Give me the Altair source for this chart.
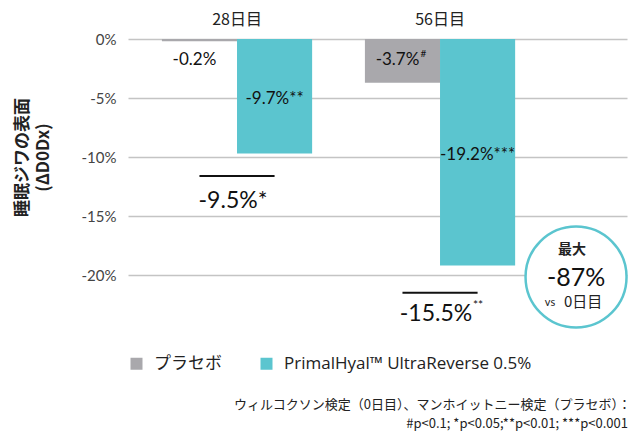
import altair as alt
import pandas as pd

# ---- data ----
days = ["28日目", "56日目"]
series_names = ["プラセボ", "PrimalHyal™ UltraReverse 0.5%"]
placebo = [-0.2, -3.7]
primal = [-9.7, -19.2]
placebo_labels = ["-0.2%", "-3.7%"]
placebo_sup = ["", "#"]
primal_labels = ["-9.7%**", "-19.2%***"]
diff_labels = ["-9.5%*", "-15.5%"]
diff_sup = ["", "**"]
diff_line_y = [-11.6, -21.5]
diff_text_y = [-13.7, -23.3]
y_ticks = [0, -5, -10, -15, -20]
colors = ["#a9a8ac", "#5bc5cf"]
badge_top = "最大"
badge_value = "-87%"
badge_vs = "vs"
badge_day = "0日目"
badge_y = -20
footnote = ["ウィルコクソン検定（0日目）、マンホイットニー検定（プラセボ）：",
            "#p<0.1; *p<0.05;**p<0.01; ***p<0.001"]
y_title = ["睡眠ジワの表面", "(ΔD0Dx)"]

# ---- layout constants ----
group_pos = [1, 2]          # group centres on the x scale
bar_w = 0.37                # bar width in x units
x_domain = [0.463, 2.921]
badge_x = 2.67

FONT = "Lato, 'Noto Sans CJK JP', sans-serif"
LEG = "'Open Sans', 'Noto Sans CJK JP', sans-serif"
JP = "'Noto Sans CJK JP', sans-serif"

bars = pd.DataFrame({
    "series": [series_names[0]] * 2 + [series_names[1]] * 2,
    "x0": [g - bar_w for g in group_pos] + list(group_pos),
    "x1": list(group_pos) + [g + bar_w for g in group_pos],
    "value": placebo + primal,
})
plac_df = pd.DataFrame({"x": [g - bar_w / 2 for g in group_pos], "label": placebo_labels,
                        "sup": placebo_sup, "y": [0, 0]})
prim_df = pd.DataFrame({"x": [g + bar_w / 2 for g in group_pos], "label": primal_labels,
                        "y": [v / 2 for v in primal]})
diff_df = pd.DataFrame({"x": group_pos, "xa": [g - bar_w / 2 for g in group_pos],
                        "xb": [g + bar_w / 2 for g in group_pos],
                        "label": diff_labels, "sup": diff_sup,
                        "ly": diff_line_y, "ty": diff_text_y})
head_df = pd.DataFrame({"x": group_pos, "day": days, "y": [0, 0]})
badge_df = pd.DataFrame({"x": [badge_x], "y": [badge_y]})
foot_df = pd.DataFrame({"x": [x_domain[1]], "y": [y_ticks[-1]]})

xscale = alt.Scale(domain=x_domain, nice=False, zero=False)
yscale = alt.Scale(domain=[-20, 0], nice=False, zero=False)

bar_layer = alt.Chart(bars).mark_bar().encode(
    x=alt.X("x0:Q", scale=xscale, axis=None),
    x2="x1:Q",
    y=alt.Y("value:Q", scale=yscale,
            axis=alt.Axis(values=y_ticks, labelExpr="datum.value + '%'", domain=False, ticks=False,
                          grid=True, gridColor="#c4c4c4", gridWidth=1.5, labelPadding=12,
                          labelFontSize=15, labelColor="#444", labelFont=FONT,
                          title=y_title, titleFont=JP, titleFontSize=17, titleFontWeight="bold",
                          titleColor="#222", titleX=-106, titleY=118, titleAngle=270,
                          titleAlign="center", titleBaseline="middle", titleLineHeight=21)),
    y2=alt.datum(0),
    color=alt.Color("series:N", sort=series_names,
                    scale=alt.Scale(domain=series_names, range=colors),
                    legend=alt.Legend(orient="none", legendX=0, legendY=316, direction="horizontal",
                                      title=None, symbolType="square", symbolSize=144,
                                      symbolStrokeWidth=0, labelFontSize=17, labelFont=LEG,
                                      labelColor="#222", columnPadding=36, labelOffset=9,
                                      labelLimit=0)),
)

def X(f):
    return alt.X(f"{f}:Q", scale=xscale, axis=None)

plac_text = alt.Chart(plac_df).mark_text(fontSize=17, font=FONT, color="#111", dy=21, dx=-5).encode(
    x=X("x"), y=alt.Y("y:Q"), text="label:N")
plac_sup = alt.Chart(plac_df).mark_text(fontSize=10, font=FONT, color="#111", dy=15, dx=21).encode(
    x=X("x"), y=alt.Y("y:Q"), text="sup:N")
prim_text = alt.Chart(prim_df).mark_text(fontSize=17, font=FONT, color="#111", dy=3).encode(
    x=X("x"), y=alt.Y("y:Q"), text="label:N")

diff_rule = alt.Chart(diff_df).mark_rule(color="#111", strokeWidth=2).encode(
    x=X("xa"), x2="xb:Q", y=alt.Y("ly:Q"))
diff_text = alt.Chart(diff_df).mark_text(fontSize=23, font=FONT, color="#111", dx=-4).encode(
    x=X("x"), y=alt.Y("ty:Q"), text="label:N")
diff_sup_t = alt.Chart(diff_df).mark_text(fontSize=12, font=FONT, color="#111", dx=38, dy=-9).encode(
    x=X("x"), y=alt.Y("ty:Q"), text="sup:N")

head_text = alt.Chart(head_df).mark_text(fontSize=16, font=JP, color="#222", dy=-19).encode(
    x=X("x"), y=alt.Y("y:Q"), text="day:N")

badge_circle = alt.Chart(badge_df).mark_point(
    shape="circle", size=10200, fill="white", fillOpacity=1, stroke="#5bc5cf", strokeWidth=2.5,
    opacity=1, yOffset=2).encode(x=X("x"), y=alt.Y("y:Q"))
b1 = alt.Chart(badge_df).mark_text(text=badge_top, fontSize=14, font=JP, fontWeight="bold",
                                   color="#222", dx=-4, dy=-25).encode(x=X("x"), y=alt.Y("y:Q"))
b2 = alt.Chart(badge_df).mark_text(text=badge_value, fontSize=25, font=FONT, color="#111",
                                   dy=3).encode(x=X("x"), y=alt.Y("y:Q"))
b3 = alt.Chart(badge_df).mark_text(text=badge_vs, fontSize=11, font=FONT, color="#222",
                                   dx=-26, dy=28).encode(x=X("x"), y=alt.Y("y:Q"))
b4 = alt.Chart(badge_df).mark_text(text=badge_day, fontSize=15, font=JP, color="#222",
                                   dx=7, dy=27).encode(x=X("x"), y=alt.Y("y:Q"))

f1 = alt.Chart(foot_df).mark_text(text=footnote[0], fontSize=13, font=JP, color="#222",
                                  align="right", dx=4, dy=130).encode(x=X("x"), y=alt.Y("y:Q"))
f2 = alt.Chart(foot_df).mark_text(text=footnote[1], fontSize=13, font=JP, color="#222",
                                  align="right", dx=1, dy=149).encode(x=X("x"), y=alt.Y("y:Q"))

chart = alt.layer(
    bar_layer, plac_text, plac_sup, prim_text, diff_rule, diff_text, diff_sup_t, head_text,
    badge_circle, b1, b2, b3, b4, f1, f2
).properties(
    width=499, height=236,
    autosize=alt.AutoSizeParams(type="none"),
    padding={"left": 120, "top": 31, "right": 5, "bottom": 157},
).configure_view(stroke=None)

chart.save("out.html", embed_options={"renderer": "svg", "actions": False})
